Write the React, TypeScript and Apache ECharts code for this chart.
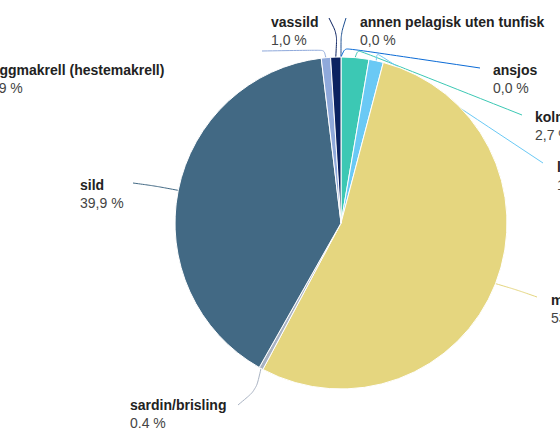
import React, { useEffect, useRef } from "react";
import * as echarts from "echarts";

const categories = [
  "annen pelagisk uten tunfisk",
  "ansjos",
  "kolmule",
  "lodde",
  "makrell",
  "sardin/brisling",
  "sild",
  "taggmakrell (hestemakrell)",
  "vassild",
];
const shares = [0.0, 0.0, 2.7, 1.4, 53.7, 0.4, 39.9, 0.9, 1.0];
const colors = [
  "#1d4f91",
  "#0b6bd6",
  "#3cc8b4",
  "#6ac9f5",
  "#e5d67f",
  "#a8b2c2",
  "#426984",
  "#8fa9db",
  "#0b2260",
];

// label placement (style, not data)
const labelPos: { x: number; y: number; via: number[][]; end: number[] }[] = [
  { x: 360, y: 13, via: [[341, 34]], end: [346, 18] },
  { x: 493, y: 61, via: [[345, 48]], end: [480, 68] },
  { x: 535, y: 108, via: [[358, 50]], end: [522, 115] },
  { x: 557, y: 158, via: [[377, 53]], end: [543, 163] },
  { x: 551, y: 291, via: [[517, 290]], end: [537, 297] },
  { x: 130, y: 396, via: [[256, 390]], end: [238, 405] },
  { x: 80, y: 176, via: [[155, 186]], end: [133, 183] },
  { x: -13, y: 61, via: [[324, 50], [262, 51]], end: [200, 68] },
  { x: 271, y: 13, via: [[337, 34]], end: [329, 18] },
];

const FONT = "Liberation Sans, Arial, sans-serif";

export default function App() {
  const ref = useRef<HTMLDivElement>(null);
  useEffect(() => {
    const chart = echarts.init(ref.current!, null, { renderer: "svg" });
    chart.setOption({
      animation: false,
      backgroundColor: "#ffffff",
      series: [
        {
          type: "pie",
          center: [341, 223],
          radius: [0, 166],
          startAngle: 90,
          clockwise: true,
          avoidLabelOverlap: false,
          itemStyle: { borderColor: "#ffffff", borderWidth: 1 },
          data: categories.map((name, i) => ({
            name,
            value: shares[i],
            itemStyle: { color: colors[i] },
          })),
          label: {
            show: true,
            fontFamily: FONT,
            formatter: (p: any) =>
              `{n|${p.name}}\n{v|${Number(p.value).toFixed(1).replace(".", ",")} %}`,
            rich: {
              n: { fontSize: 14, fontWeight: "bold", color: "#222222", lineHeight: 18, fontFamily: FONT },
              v: { fontSize: 14, color: "#444444", lineHeight: 18, fontFamily: FONT },
            },
          },
          labelLine: { show: true, length: 8, length2: 20, smooth: 0.25, lineStyle: { width: 1 } },
          labelLayout: (params: any) => {
            const lp = labelPos[params.dataIndex];
            const start = params.labelLinePoints ? params.labelLinePoints[0] : lp.via[0];
            return {
              x: lp.x,
              y: lp.y,
              align: "left",
              verticalAlign: "top",
              labelLinePoints: [start, ...lp.via, lp.end],
            };
          },
        },
      ],
    });
    return () => chart.dispose();
  }, []);
  return (
    <div
      ref={ref}
      style={{ position: "absolute", left: 0, top: 0, width: 560, height: 428 }}
    />
  );
}
